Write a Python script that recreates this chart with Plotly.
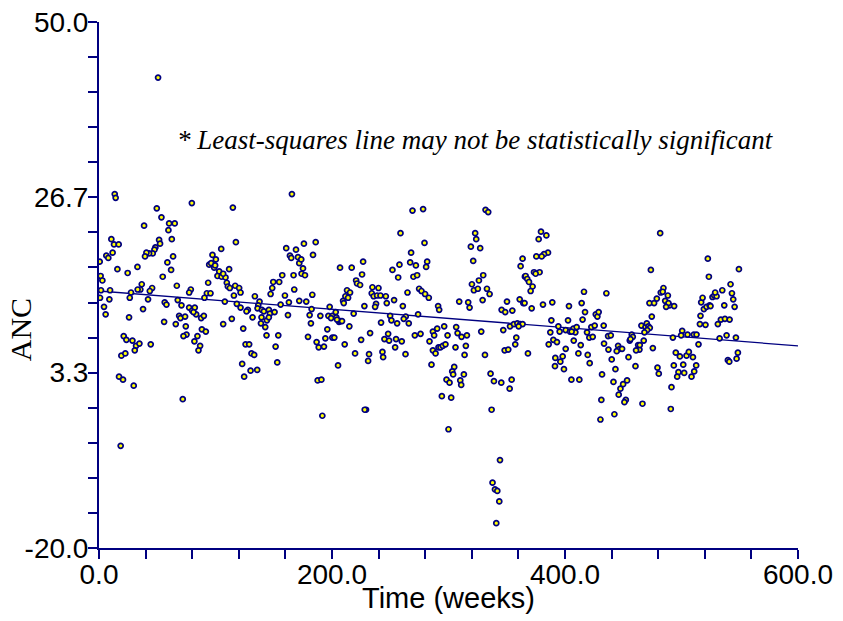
import plotly.graph_objects as go

# ---- data (Time in weeks, ANC) ----
weeks_early = [
    50.7, 13.5, 14.3, 165.6, 79.7, 49.6, 114.9, 53.6, 60.2, 65.0,
    38.7, 59.6, 62.5, 10.6, 51.6, 52.4, 117.5, 12.9, 16.9, 48.4,
    47.6, 46.1, 43.0, 40.7, 39.5, 104.9, 11.7, 6.3, 8.0, 160.7,
    175.9, 169.1, 163.9, 165.0, 170.8, 171.9, 173.6, 183.7, 63.6, 0.6,
    97.4, 100.3, 94.6, 96.3, 98.9, 99.7, 58.7, 15.8, 33.0, 24.6,
    61.9, 103.2, 101.7, 105.2, 108.6, 106.6, 111.7, 1.4, 2.9, 54.7,
    175.1, 173.9, 176.8, 167.0, 157.3, 36.7, 35.5, 33.2, 45.6, 43.6,
    66.8, 78.8, 77.4, 93.7, 109.7, 110.6, 112.3, 116.9, 120.3, 121.5,
    149.6, 148.7, 154.7, 147.3, 167.6, 1.7, 9.5, 27.5, 26.4, 92.6,
    95.7, 90.5, 115.8, 133.8, 159.6, 183.1, 0.9, 8.9, 42.1, 67.6,
    56.4, 57.9, 108.0, 118.3, 121.5, 127.8, 126.6, 137.8, 136.7, 136.1,
    139.8, 141.5, 145.8, 146.7, 150.7, 155.9, 163.0, 171.9, 177.9, 182.5,
    4.3, 5.7, 37.8, 70.8, 77.4, 79.9, 82.2, 83.4, 81.1, 68.8,
    69.9, 73.9, 87.7, 90.0, 25.8, 114.0, 131.8, 139.5, 139.0, 142.7,
    144.1, 145.8, 162.2, 180.8, 181.9, 55.9, 65.9, 74.5, 106.6, 88.3,
    91.7, 123.8, 21.2, 23.5, 28.7, 31.8, 34.7, 30.7, 44.4, 75.1,
    72.5, 84.5, 81.9, 86.8, 85.4, 143.8, 153.9, 179.4, 125.8, 128.9,
    151.6, 130.9, 133.2, 19.2, 22.6, 122.9, 153.0, 130.1, 135.8, 124.6,
    17.2, 20.6, 29.8, 71.9, 18.6,
]
anc_early = [
    42.6, 27.1, 26.6, 27.1, 25.9, 25.2, 25.3, 24.0, 23.2, 23.2,
    22.9, 22.3, 21.1, 21.1, 21.0, 20.5, 20.7, 20.4, 20.4, 20.0,
    19.7, 19.2, 19.2, 19.3, 18.8, 19.8, 19.3, 18.9, 18.6, 19.9,
    20.5, 19.7, 18.9, 18.6, 18.7, 17.9, 18.4, 19.0, 18.8, 18.1,
    19.0, 18.4, 17.7, 17.9, 17.3, 17.6, 18.0, 17.1, 17.4, 16.6,
    17.0, 16.8, 16.2, 16.1, 16.0, 16.5, 17.1, 16.2, 15.6, 16.1,
    17.2, 16.5, 16.3, 16.3, 16.3, 15.1, 14.4, 14.4, 14.6, 14.2,
    14.9, 14.4, 14.0, 15.3, 15.3, 14.8, 14.6, 14.9, 14.6, 14.0,
    15.4, 14.6, 15.4, 13.8, 14.4, 14.3, 14.3, 14.0, 13.3, 13.9,
    13.9, 13.3, 13.6, 13.5, 13.6, 13.7, 13.3, 13.1, 13.1, 13.0,
    12.7, 12.4, 12.8, 12.5, 12.0, 11.7, 11.5, 12.8, 12.3, 11.9,
    11.7, 11.5, 11.7, 11.2, 11.4, 12.4, 12.7, 12.9, 12.8, 11.8,
    12.1, 11.1, 11.8, 12.3, 12.0, 11.6, 12.0, 11.1, 11.4, 10.9,
    10.6, 10.8, 10.6, 10.9, 10.7, 10.5, 10.7, 10.7, 9.9, 9.4,
    10.3, 10.7, 11.0, 11.0, 9.9, 10.1, 9.8, 9.5, 9.8, 9.1,
    8.8, 9.2, 8.2, 7.7, 7.6, 6.9, 7.2, 6.3, 7.1, 8.4,
    8.2, 8.2, 7.5, 6.9, 6.3, 8.3, 8.3, 8.1, 7.1, 7.1,
    6.8, 5.9, 5.7, 5.6, 5.9, 4.5, 4.7, 3.6, 3.7, 2.8,
    2.8, 2.4, 1.6, -0.2, -6.4,
]

weeks_mid = [
    186.0, 269.1, 278.2, 331.8, 334.1, 258.8, 322.9, 323.8, 319.2, 327.2,
    279.4, 267.9, 267.1, 272.0, 281.7, 280.8, 257.9, 251.9, 256.8, 269.9,
    273.1, 321.2, 329.8, 326.1, 320.1, 321.8, 325.2, 333.0, 335.3, 329.3,
    363.6, 361.9, 365.6, 206.9, 216.9, 226.7, 225.8, 220.7, 221.5, 224.1,
    212.9, 215.5, 211.5, 213.8, 209.5, 210.1, 234.7, 239.9, 234.1, 235.8,
    238.7, 241.6, 246.2, 253.3, 247.0, 237.8, 237.0, 227.8, 260.8, 264.8,
    274.8, 276.8, 279.9, 283.1, 291.1, 292.0, 309.2, 316.9, 318.1, 350.2,
    345.6, 348.7, 354.8, 361.1, 364.2, 198.0, 196.9, 200.3, 199.2, 203.2,
    203.7, 206.0, 207.2, 208.6, 204.3, 190.0, 218.6, 214.9, 196.0, 186.8,
    188.6, 193.1, 194.3, 200.3, 202.0, 210.9, 225.0, 232.7, 242.1, 249.9,
    251.0, 255.9, 263.3, 261.6, 265.9, 273.9, 248.2, 245.0, 249.0, 255.0,
    259.9, 254.2, 243.3, 243.9, 219.8, 231.8, 231.0, 263.1, 205.2, 187.7,
    190.9, 229.2, 228.1, 191.7, 271.1, 276.0, 283.7, 286.6, 290.3, 287.7,
    296.3, 299.2, 306.6, 307.8, 311.2, 315.8, 314.9, 313.8, 328.1, 286.6,
    288.9, 291.4, 293.1, 295.1, 297.4, 306.0, 285.4, 304.9, 303.2, 304.0,
    298.3, 300.9, 310.1, 310.9, 313.2, 294.3, 302.3, 300.0, 331.3, 336.1,
    339.0, 345.3, 352.5, 354.2, 337.0, 347.0, 348.2, 351.3, 357.3, 358.2,
    352.8, 356.2, 359.1, 361.6, 363.6, 360.2, 344.2, 337.8, 339.9, 341.9,
    343.6, 341.0,
]
anc_mid = [
    20.7, 24.9, 25.1, 25.0, 24.7, 21.9, 21.9, 21.1, 20.1, 19.9,
    20.6, 19.3, 18.0, 17.6, 18.1, 17.4, 17.7, 17.0, 16.0, 16.1,
    16.3, 18.2, 16.3, 15.6, 15.1, 14.3, 14.5, 14.5, 13.8, 13.0,
    18.5, 17.5, 16.1, 17.3, 17.3, 18.1, 16.4, 15.6, 15.2, 15.0,
    14.3, 14.0, 13.5, 13.3, 12.9, 12.6, 14.7, 14.6, 13.9, 13.5,
    13.6, 13.6, 13.5, 13.0, 12.6, 12.5, 12.1, 12.2, 12.2, 14.0,
    14.5, 14.2, 13.8, 13.3, 12.2, 11.7, 12.8, 12.7, 12.0, 12.8,
    11.7, 11.4, 11.6, 13.1, 12.6, 12.1, 10.9, 10.9, 10.6, 11.4,
    10.7, 10.1, 10.2, 10.2, 10.4, 10.9, 11.2, 9.5, 9.1, 7.4,
    6.7, 6.8, 7.9, 8.0, 8.0, 7.1, 7.7, 8.6, 10.0, 10.9,
    10.3, 9.9, 10.8, 10.5, 9.9, 11.1, 8.5, 7.8, 7.6, 7.8,
    7.5, 6.7, 6.1, 5.4, 5.9, 5.8, 4.9, 5.8, 4.3, 2.3,
    2.4, -1.6, -1.6, -2.4, 8.3, 8.5, 7.5, 8.8, 9.2, 8.3,
    9.5, 8.3, 9.4, 8.6, 8.1, 8.3, 6.9, 5.7, 8.8, 6.3,
    5.9, 6.7, 6.7, 6.9, 7.1, 6.7, 4.4, 4.1, 3.5, 3.1,
    2.4, 2.0, 2.3, 1.7, 3.1, 0.2, 0.0, -4.2, 5.7, 3.2,
    2.2, 2.0, 1.2, 2.4, -1.6, 9.0, 6.3, 6.4, 7.1, 8.0,
    9.5, 9.8, 9.9, 9.8, 9.8, 9.5, -8.3, -11.3, -12.2, -12.4,
    -13.8, -16.7,
]

weeks_late = [
    379.4, 384.0, 377.4, 385.4, 382.0, 380.0, 375.4, 373.4, 378.2, 374.8,
    366.2, 367.6, 369.1, 372.2, 370.5, 365.3, 371.4, 381.1, 389.1, 388.3,
    394.3, 395.4, 387.4, 390.0, 393.1, 386.0, 368.2, 400.6, 404.3, 407.2,
    410.0, 408.9, 405.7, 402.6, 403.4, 416.3, 414.3, 417.2, 415.1, 407.5,
    400.6, 391.7, 398.0, 396.0, 391.4, 399.1, 413.5, 411.5, 405.5, 412.3,
    418.9, 420.9, 423.8, 422.6, 425.5, 433.2, 426.4, 427.8, 428.9, 435.5,
    419.5, 421.2, 431.8, 431.2, 430.4, 433.5, 437.0, 439.3, 437.3, 440.1,
    443.3, 445.6, 447.0, 449.0, 444.4, 441.6, 446.1, 447.6, 449.9, 453.3,
    452.2, 451.0, 442.4, 454.5, 457.3, 458.2, 455.6, 456.2, 460.5, 466.5,
    462.8, 463.9, 461.0, 464.2, 467.6, 465.6, 469.1, 470.2, 471.6, 472.8,
    470.5, 468.2, 475.4, 474.5, 473.7, 481.7, 472.5, 476.5, 478.8, 482.2,
    484.5, 483.9, 488.3, 486.0, 489.7, 488.8, 493.7, 486.8, 479.4, 480.5,
    491.4, 490.8, 492.6, 495.1, 498.6, 493.4, 497.4, 496.3, 502.3, 501.5,
    504.3, 506.3, 509.8, 512.6, 510.9, 508.6, 500.6, 499.7, 505.2, 510.6,
    512.9, 514.6, 516.3, 515.8, 520.6, 516.9, 518.1, 519.2, 521.5, 524.1,
    524.9, 522.6, 523.5, 526.6, 528.1, 530.1, 528.9, 535.0, 536.7, 533.8,
    537.3, 541.3, 531.2, 532.7, 538.7, 546.7, 542.1, 543.3, 544.4, 545.6,
    549.3, 548.4, 547.3, 539.8, 541.0,
]
anc_late = [
    22.1, 21.6, 21.1, 19.3, 19.1, 18.8, 18.8, 16.7, 16.7, 16.5,
    16.2, 15.8, 15.4, 14.8, 14.2, 12.6, 11.9, 12.4, 12.7, 10.3,
    9.5, 8.8, 8.7, 7.7, 7.4, 7.1, 5.9, 9.0, 8.8, 9.2,
    9.4, 8.7, 8.8, 10.3, 12.2, 14.1, 12.6, 11.4, 10.4, 7.6,
    6.5, 5.3, 5.5, 4.8, 4.2, 3.8, 7.0, 5.9, 2.4, 2.4,
    8.7, 8.0, 8.1, 9.4, 9.6, 9.6, 11.1, 10.8, 11.4, 13.9,
    5.7, 4.6, 3.1, -0.3, -2.9, 7.2, 8.2, 8.3, 6.4, 5.1,
    3.8, 6.9, 6.5, 6.5, 6.2, 2.1, 0.4, 1.2, 1.8, 2.3,
    -0.3, -0.6, -2.2, 5.4, 8.4, 8.1, 7.6, 7.8, 4.2, -0.8,
    7.0, 6.4, 6.3, 7.0, 7.6, 9.6, 9.4, 9.9, 9.5, 9.3,
    9.0, 8.7, 6.6, 10.8, 17.0, 21.9, 12.6, 12.6, 13.2, 14.0,
    14.6, 14.1, 13.6, 12.9, 12.3, 12.6, 12.2, 12.1, 4.0, 3.2,
    1.4, -1.5, 8.0, 6.0, 5.5, 4.3, 3.4, 2.8, 3.3, 4.4,
    5.6, 6.1, 5.4, 4.3, 3.5, 2.8, 8.9, 8.3, 8.4, 8.4,
    8.4, 7.1, 10.9, 9.8, 9.7, 12.7, 13.3, 11.8, 12.1, 12.3,
    12.2, 18.5, 16.1, 13.4, 13.6, 13.5, 14.0, 14.3, 12.3, 10.4,
    10.5, 10.4, 9.8, 7.9, 8.3, 8.0, 15.1, 13.9, 13.1, 12.1,
    17.1, 6.0, 5.2, 5.0, 4.8,
]

# least-squares line as drawn (end points)
fit_weeks = [0.0, 600.0]
fit_anc = [14.2, 6.9]

x_tick_vals = [0, 200, 400, 600]
x_tick_text = ["0.0", "200.0", "400.0", "600.0"]
y_tick_vals = [-20.0, 10.0 / 3.0, 80.0 / 3.0, 50.0]
y_tick_text = ["-20.0", "3.3", "26.7", "50.0"]

note_text = "* Least-squares line may not be statistically significant"
x_title = "Time (weeks)"
y_title = "ANC"

weeks = weeks_early + weeks_mid + weeks_late
anc = anc_early + anc_mid + anc_late
assert len(weeks) == len(anc)

NAVY = "#000080"
SANS = "Liberation Sans, Arial, sans-serif"
SERIF = "Liberation Serif, Times New Roman, serif"

fig = go.Figure()
fig.add_trace(go.Scatter(
    x=fit_weeks, y=fit_anc, mode="lines",
    line=dict(color=NAVY, width=1.3), hoverinfo="skip", showlegend=False,
))
fig.add_trace(go.Scatter(
    x=weeks, y=anc, mode="markers",
    marker=dict(size=5, color="#FFFF00", line=dict(color=NAVY, width=1.7)),
    showlegend=False,
))

axis_common = dict(
    showgrid=False, zeroline=False, showline=True, linecolor=NAVY, linewidth=2,
    ticks="outside", ticklen=9, tickwidth=2, tickcolor=NAVY, automargin=False,
    tickfont=dict(family=SANS, size=28, color="black"),
)

fig.update_layout(
    width=843, height=621,
    margin=dict(l=99, r=45, t=22, b=73),
    paper_bgcolor="white", plot_bgcolor="white",
    xaxis=dict(
        range=[0, 600], tickmode="array", tickvals=x_tick_vals, ticktext=x_tick_text,
        minor=dict(tick0=0, dtick=40, ticks="outside", ticklen=9, tickwidth=2, tickcolor=NAVY),
        ticklabelstandoff=-9,
        **axis_common,
    ),
    yaxis=dict(
        range=[-20, 50], tickmode="array", tickvals=y_tick_vals, ticktext=y_tick_text,
        minor=dict(tick0=-20, dtick=70.0 / 15.0, ticks="outside", ticklen=9, tickwidth=2, tickcolor=NAVY),
        ticklabelstandoff=-6,
        **axis_common,
    ),
    annotations=[
        dict(text="<i>" + note_text + "</i>", x=0.539, y=0.776, xref="paper", yref="paper",
             showarrow=False, xanchor="center", yanchor="middle",
             font=dict(family=SERIF, size=27, color="black")),
        dict(text=y_title, x=-0.113, y=0.414, xref="paper", yref="paper", textangle=-90,
             showarrow=False, xanchor="center", yanchor="middle",
             font=dict(family=SERIF, size=30, color="black")),
        dict(text=x_title, x=0.5, y=-0.095, xref="paper", yref="paper",
             showarrow=False, xanchor="center", yanchor="middle",
             font=dict(family=SANS, size=29, color="black")),
    ],
)

fig.write_html("out.html")
